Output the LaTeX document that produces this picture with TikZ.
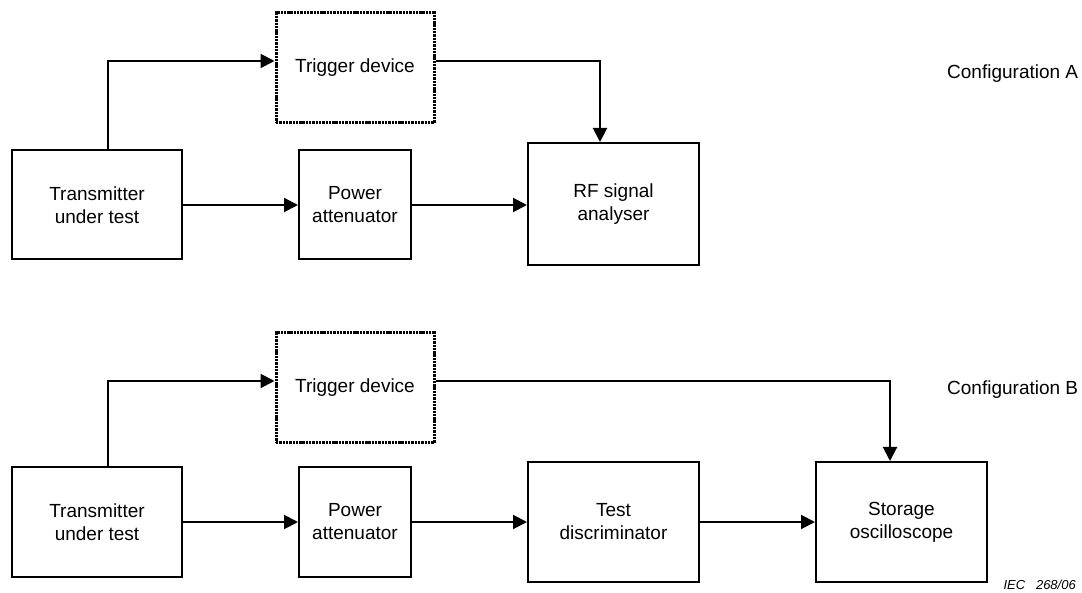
\documentclass[tikz,border=0pt]{standalone}
\usepackage{fontspec}
\setmainfont{Liberation Sans}
\usetikzlibrary{arrows.meta}
\begin{document}
\begin{tikzpicture}[x=1pt,y=-1pt,
  every node/.style={font=\fontsize{19}{23}\selectfont, inner sep=0pt},
  blk/.style={draw, line width=2pt, align=center},
  trig/.style={draw, line width=3pt, dash pattern=on 2.4pt off 0.9pt, align=center},
  arr/.style={line width=2pt, -{Triangle[length=14pt,width=14pt]}},
  lbl/.style={anchor=west}]
\useasboundingbox (0,0) rectangle (1082,593);
% Configuration A
\node[trig, minimum width=158pt, minimum height=110pt] (trigA) at (355,68) {Trigger device};
\node[blk, minimum width=170pt, minimum height=109pt] (txA) at (97,205) {Transmitter\\under test};
\node[blk, minimum width=112pt, minimum height=109pt] (pwA) at (355,205) {Power\\attenuator};
\node[blk, minimum width=171pt, minimum height=122pt] (rfA) at (613.5,204) {RF signal\\analyser};
\node[lbl] (cfgA) at (947,74) {Configuration A};
\draw[arr] ([xshift=11pt]txA.north) |- ([yshift=7pt]trigA.west);
\draw[arr] ([yshift=7pt]trigA.east) -| ([xshift=-13.5pt]rfA.north);
\draw[arr] (txA.east) -- (pwA.west);
\draw[arr] (pwA.east) -- (pwA.east -| rfA.west);
% Configuration B
\node[trig, minimum width=158pt, minimum height=110pt] (trigB) at (355,388) {Trigger device};
\node[blk, minimum width=170pt, minimum height=109pt] (txB) at (97,522) {Transmitter\\under test};
\node[blk, minimum width=112pt, minimum height=109pt] (pwB) at (355,522) {Power\\attenuator};
\node[blk, minimum width=171pt, minimum height=120pt] (tdB) at (613.5,522) {Test\\discriminator};
\node[blk, minimum width=171pt, minimum height=120pt] (soB) at (901.5,522) {Storage\\oscilloscope};
\node[lbl] (cfgB) at (947,390) {Configuration B};
\draw[arr] ([xshift=11pt]txB.north) |- ([yshift=7pt]trigB.west);
\draw[arr] ([yshift=7pt]trigB.east) -| ([xshift=-11.5pt]soB.north);
\draw[arr] (txB.east) -- (pwB.west);
\draw[arr] (pwB.east) -- (pwB.east -| tdB.west);
\draw[arr] (tdB.east) -- (soB.west);
\node[anchor=east, font=\fontsize{13}{15}\selectfont\itshape] (iec) at (1076,585) {IEC\ \ \ 268/06};
\end{tikzpicture}
\end{document}
